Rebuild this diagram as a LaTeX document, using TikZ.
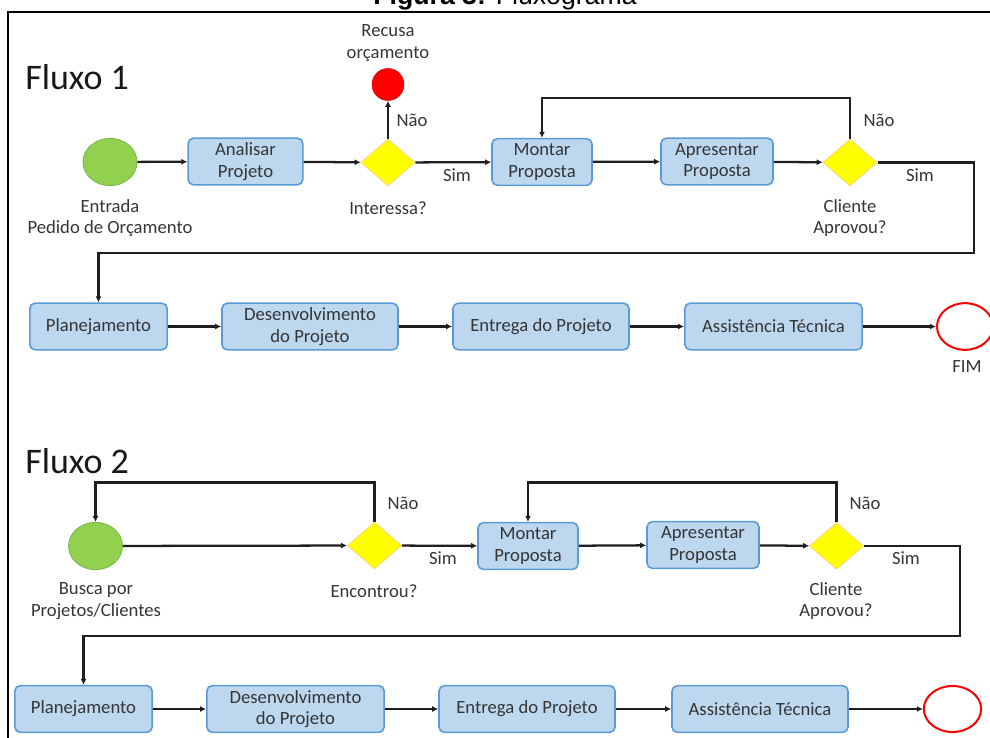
\documentclass[tikz,border=0pt]{standalone}
\usepackage{fontspec}
\setmainfont{Carlito}
\newfontfamily\arialfont{Liberation Sans}
\usetikzlibrary{shapes.geometric,arrows.meta}
\definecolor{boxfill}{HTML}{BDD7EE}
\definecolor{boxline}{HTML}{5B9BD5}
\definecolor{txt}{HTML}{353535}
\definecolor{startfill}{HTML}{92D050}
\definecolor{startline}{HTML}{7AB648}
\definecolor{decfill}{HTML}{FFFF00}
\definecolor{decline}{HTML}{FFD966}
\definecolor{lnc}{HTML}{1E1E1E}
\begin{document}
\begin{tikzpicture}[x=0.75pt,y=-0.75pt,
 font=\fontsize{14}{16}\selectfont, text=txt,
 proc/.style={draw=boxline, fill=boxfill, line width=1.2pt, rounded corners=4pt, minimum height=35pt, align=center, inner sep=1pt},
 startnode/.style={ellipse, draw=startline, fill=startfill, line width=0.6pt, minimum width=40.5pt, minimum height=35.5pt, inner sep=0pt},
 decision/.style={diamond, draw=decline, fill=decfill, line width=0.8pt, minimum width=40.5pt, minimum height=35pt, inner sep=0pt},
 endnode/.style={ellipse, draw=red, fill=white, line width=1.5pt, minimum width=41pt, minimum height=34pt, inner sep=0pt},
 stopnode/.style={circle, fill=red, draw=red!85!black, line width=0.4pt, minimum size=24pt, inner sep=0pt},
 lbl/.style={align=center, inner sep=0pt},
 heading/.style={font=\fontsize{27}{32}\selectfont, text=black!90, inner sep=0pt, anchor=base west},
 arr/.style={draw=lnc, line width=1.7pt, -{Latex[length=4.5pt,width=4.5pt]}},
]
\useasboundingbox (0,0) rectangle (990,738);

% title and frame
\node[font=\arialfont\fontsize{20}{24}\selectfont, text=black, anchor=base, inner sep=0pt] (title) at (505,5) {\textbf{Figura 3:} Fluxograma};
\draw[line width=1.5pt, black] (990,12) -- (8,12) -- (8,740);

% ---------------- Fluxo 1 ----------------
\node[heading] (h1) at (25,90) {Fluxo 1};

\node[startnode] (e1) at (110,162) {};
\node[proc, minimum width=86pt] (a1) at (245.5,161.5) {Analisar\\Projeto};
\node[decision] (d1) at (388,162.5) {};
\node[stopnode] (r1) at (388,84.5) {};
\node[proc, minimum width=75pt] (m1) at (542,162) {Montar\\Proposta};
\node[proc, minimum width=84pt] (p1) at (717,161.5) {Apresentar\\Proposta};
\node[decision] (c1) at (850,162.5) {};

\node[proc, minimum width=103pt] (pl1) at (98.5,326.5) {Planejamento};
\node[proc, minimum width=132pt] (dv1) at (310,326.5) {Desenvolvimento\\do Projeto};
\node[proc, minimum width=132pt] (en1) at (541,326.5) {Entrega do Projeto};
\node[proc, minimum width=133pt] (as1) at (773.5,326.5) {Assistência Técnica};
\node[endnode, minimum width=42pt, minimum height=35pt] (f1) at (965,326.5) {};

\node[lbl] (le1) at (110,218) {Entrada\\Pedido de Orçamento};
\node[lbl] (lr1) at (388,43) {Recusa\\orçamento};
\node[lbl] (ld1) at (388,208) {Interessa?};
\node[lbl] (ln1) at (412,120) {Não};
\node[lbl] (ls1) at (457,175) {Sim};
\node[lbl] (ln2) at (879,120) {Não};
\node[lbl] (ls2) at (920,175) {Sim};
\node[lbl] (lc1) at (850,218) {Cliente\\Aprovou?};
\node[lbl] (lf1) at (967,367) {FIM};

\coordinate (k1) at (0,98);
\coordinate (s1) at (974,253);
\draw[arr] (e1) -- (a1);
\draw[arr] (a1) -- (d1);
\draw[arr] (d1) -- (m1);
\draw[arr] (d1.north) -- (r1.south);
\draw[arr] (m1) -- (p1);
\draw[arr] (p1) -- (c1);
\draw[arr] (c1.north) -- (c1.north |- k1) -| (m1.north);
\draw[arr] (c1.east) -| (s1) -| (pl1.north);
\draw[arr] (pl1) -- (dv1);
\draw[arr] (dv1) -- (en1);
\draw[arr] (en1) -- (as1);
\draw[arr] (as1) -- (f1);

% ---------------- Fluxo 2 ----------------
\node[heading] (h2) at (25,473) {Fluxo 2};

\node[startnode] (e2) at (95.5,546) {};
\node[decision] (d2) at (374.5,545.5) {};
\node[proc, minimum width=75pt] (m2) at (528,546) {Montar\\Proposta};
\node[proc, minimum width=84pt] (p2) at (703,545) {Apresentar\\Proposta};
\node[decision] (c2) at (836.5,546) {};

\node[proc, minimum width=103pt] (pl2) at (83.5,709) {Planejamento};
\node[proc, minimum width=133pt] (dv2) at (295.5,709) {Desenvolvimento\\do Projeto};
\node[proc, minimum width=132pt] (en2) at (527,709) {Entrega do Projeto};
\node[proc, minimum width=132pt] (as2) at (760,709) {Assistência Técnica};
\node[endnode, minimum width=43pt, minimum height=34.5pt] (f2) at (952.5,709) {};

\node[lbl] (le2) at (96,601) {Busca por\\Projetos/Clientes};
\node[lbl] (ld2) at (374,591) {Encontrou?};
\node[lbl] (ln3) at (403,503) {Não};
\node[lbl] (ls3) at (443,558) {Sim};
\node[lbl] (ln4) at (865,503) {Não};
\node[lbl] (ls4) at (906,558) {Sim};
\node[lbl] (lc2) at (836,601) {Cliente\\Aprovou?};

\coordinate (k2) at (0,482.5);
\coordinate (s2) at (960,636);
\draw[arr] (e2) -- (d2);
\draw[arr] (d2) -- (m2);
\draw[arr] (d2.north) -- (d2.north |- k2) -| (e2.north);
\draw[arr] (m2) -- (p2);
\draw[arr] (p2) -- (c2);
\draw[arr] (c2.north) -- (c2.north |- k2) -| (m2.north);
\draw[arr] (c2.east) -| (s2) -| (pl2.north);
\draw[arr] (pl2) -- (dv2);
\draw[arr] (dv2) -- (en2);
\draw[arr] (en2) -- (as2);
\draw[arr] (as2) -- (f2);
\end{tikzpicture}
\end{document}
